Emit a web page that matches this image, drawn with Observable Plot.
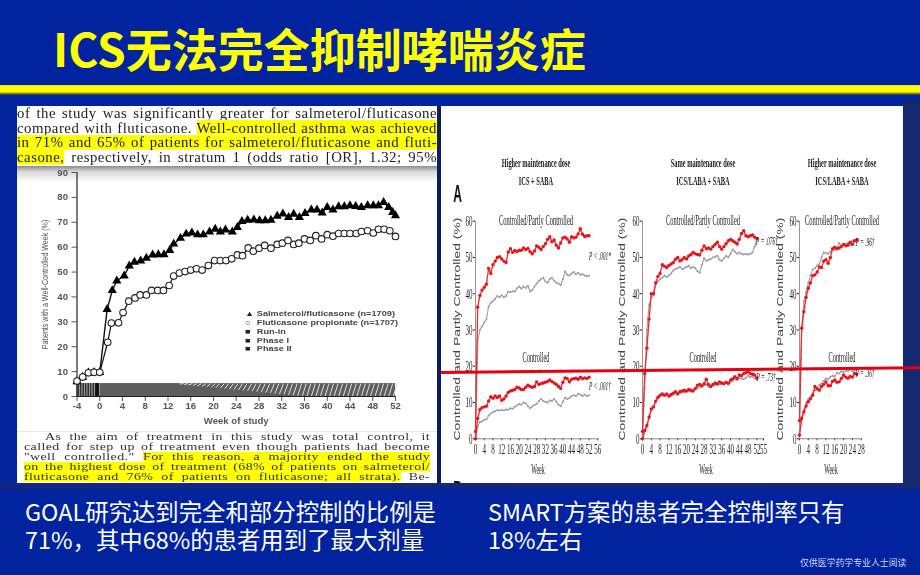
<!DOCTYPE html>
<html lang="zh">
<head>
<meta charset="utf-8">
<script src="https://cdn.jsdelivr.net/npm/d3@7"></script>
<script src="https://cdn.jsdelivr.net/npm/@observablehq/plot@0.6"></script>
<style>
html,body{margin:0;padding:0;background:#0123a0;}
#root{position:relative;width:920px;height:575px;overflow:hidden;background:#0123a0;font-family:"Noto Sans CJK SC","Noto Sans",sans-serif;}
.abs{position:absolute;}
.layer{position:absolute;left:0;top:0;width:920px;height:575px;}
.soft{filter:blur(.45px);}
#title{left:53px;top:14px;font-size:46px;line-height:66px;font-weight:700;color:#ffff00;white-space:nowrap;}
#rule{left:0;top:85px;width:920px;height:10px;background:linear-gradient(#e0e000 0,#ffff00 18%,#ffff00 66%,#77771c 88%,#1b2a70 100%);}
.panel{background:#fff;position:absolute;}
.cap{position:absolute;color:#fff;font-size:23.4px;line-height:28px;white-space:nowrap;font-weight:400;}
#foot{left:800px;top:556px;font-size:8.9px;line-height:14px;color:#ccd3ee;white-space:nowrap;}
.tx{position:absolute;font-family:"Liberation Serif",serif;color:#222;text-align:justify;text-align-last:justify;white-space:normal;}
.up .hl{background:linear-gradient(#ffff00,#ffff00) no-repeat center/100% 14.6px;}
.lo .hl{background:linear-gradient(#ffff00,#ffff00) no-repeat center/100% 13.7px;}
.lg{position:absolute;left:245px;font-family:"Liberation Sans",sans-serif;font-size:8.6px;line-height:9px;font-weight:700;color:#444;white-space:nowrap;transform:scale(1.07,.87);transform-origin:0 50%;}
.lg i{display:inline-block;width:11px;font-style:normal;font-size:8.6px;color:#222;}
.nar{position:absolute;font-family:"Liberation Serif",serif;color:#1a1a1a;white-space:nowrap;transform:translate(-50%,-50%) scaleX(var(--sx,.45));}
.rot{position:absolute;font-family:"Liberation Sans",sans-serif;font-size:8.6px;color:#444;white-space:nowrap;transform:translate(-50%,-50%) rotate(-90deg) scaleX(1.62);}
#redline{left:441px;top:370.5px;width:480px;height:3.4px;background:#e6000f;transform-origin:0 50%;transform:rotate(-.56deg);}
</style>
</head>
<body>
<div id="root"></div>
<script>
// ---- Left chart: week of study and percent well-controlled ----
const salWeeks=[-4,-3,-2,-1,0,1.3,2.2,3,4.3,5.2,6.1,7.2,8.2,9.3,10.3,11.3,12.3,13,14.2,15.2,16.2,17.2,18.2,19.3,20.3,21.2,22.1,23.3,24.2,25,26,27.1,28.1,29.1,30.1,31.2,32.2,33.2,34.1,35.1,36.1,37.2,38.2,39.1,40,41,42,43,44,45,46,47.1,48.1,49,49.9,50.8,51.5,52];
const salValues=[6,7.8,9.5,9.7,9.7,35,42.6,46.5,48.5,52.5,54,54.5,55.6,56.9,57,57,58.7,61.3,63.6,65.3,65.8,65,65,66.2,67.3,66.2,67,66.2,68,70.4,70.9,71,70.7,70.7,70.9,72.5,73.4,72,73.3,72,73.6,75,75,73.8,76,75,76.3,76.3,76.7,76.4,76,76.7,76.7,76.7,78,76,74,72.7];
const fluWeeks=[-4,-3,-2,-1,0,1.4,2.05,3.3,4.1,5.1,6.2,7.1,8.2,9.1,10.2,11.2,12.2,13,14,15,16,17,18,19.1,20.2,21.2,22.2,23.2,24.2,25.1,26.1,27,28,29,30.1,31.2,32.1,33.1,34.1,35,36,37,38,39,40,41,42,43,44,45.1,46,47.1,48.1,49,50,51,52];
const fluValues=[6.2,7.8,9.5,9.7,9.7,21.8,29.5,29.6,33.7,38.3,39.6,40.8,40.8,42.6,42.6,42.6,44.6,48.4,49.6,50.2,50.8,51.3,50.8,52.6,54.6,54.6,54.6,55.3,56.9,56.6,59.7,58.4,59.6,60.7,59.6,61.1,61.6,62.7,61.1,61.6,63.3,62.7,64.6,63.3,65,64.4,65.5,65.5,65.5,65.5,66.3,66.6,65.7,67.2,67.2,66.6,64.3];
const leftYTicks=[0,10,20,30,40,50,60,70,80,90];
const leftXTicks=[-4,0,4,8,12,16,20,24,28,32,36,40,44,48,52];
const legendLabels=["Salmeterol/fluticasone (n=1709)","Fluticasone propionate (n=1707)","Run-in","Phase I","Phase II"];
const legendGlyphs=["▲","○","■","■","■"];

// ---- Right charts ----
const wk52=[0,1,2,3,4,5,6,7,8,9,10,11,12,13,14,15,16,17,18,19,20,21,22,23,24,25,26,27,28,29,30,31,32,33,34,35,36,37,38,39,40,41,42,43,44,45,46,47,48,49,50,51,52];
const wk26=[0,1,2,3,4,5,6,7,8,9,10,11,12,13,14,15,16,17,18,19,20,21,22,23,24,25,26];
const a1Red=[2,36.3,39.5,41,41.8,42.6,47,45.6,48,49,50,50.2,49.6,49,48.6,51.5,52.4,51.4,51.9,51.6,52,52,52.6,52.2,52.5,51.6,51,51.8,53.2,52.8,52.2,53,53.8,55,55.7,54.3,54.8,53.4,52.6,54,55.4,55.6,55.1,54.2,55.7,55.4,55.6,56.5,57.9,56.4,55.8,56,56];
const a1Gray=[2,27,30,31,32,33,36.5,37.5,38,38.6,39.4,39,39.6,39,39.4,40.6,40.4,40.7,40.6,41.5,42,41.4,42,41.6,42.2,40.6,41,42,42.8,43.5,44,44.4,43.4,43,44,44.4,43.6,43,42.8,42.4,44,46.2,45.2,45,45.6,46,45.4,45.8,45.2,45.4,45,44.8,45];
const b1Red=[0,5.6,8,8.6,8.8,9,10.4,11.6,11.2,11.8,11.4,11.8,10.6,11,11.8,12.8,13.2,13.4,13.6,14.2,14,13.6,13.6,14.2,14.8,14.4,14.2,14.4,15.7,15,15.2,15.4,15.6,15.8,16.2,15.8,15.4,15,14.4,13.9,15.6,16.8,16.6,15.7,16.4,16.6,16.7,16.4,17,16.6,16.8,16.6,17];
const b1Gray=[0,3.4,4.6,4.8,5.2,5.4,6.4,7,7.4,7.6,7.9,7.8,8,7.8,8.1,8,8.4,8.3,8.8,9.2,9.6,9.4,10,9.8,9,8.4,8.9,9.3,9.6,10.4,11,10.4,10.2,10,10.6,10.4,11,10.2,9.4,9,10.2,11.4,11,11.2,11.8,12,11.8,12.4,12.2,11.8,12.2,11.8,12];
const a2Red=[2,18,25,33,40,40,43,44.8,45.6,48,47.6,47.2,47.8,48.2,48.6,49.5,50,49,49.4,50,49.6,50.4,50.8,51.4,51,50.8,50.7,52,53.2,52.4,52.6,52.3,53,53.6,54.2,53,52.3,53,53.8,54.6,55,54.6,54.2,53.7,55,56.6,57.4,56,55.7,56,56.2,55.6,55.2];
const a2Gray=[1,14,30,37,39,39.6,42.6,43.4,44,44.4,45,44.6,45,45.6,46.4,46.8,47,47.4,46.8,47,47.4,47.7,47,47.4,47,46.2,45.8,48,49.8,49,49.4,49.6,50,50.2,50.5,49.4,49,49.8,50.4,50,51,52.2,51.6,51,51.4,51,50.8,51,50.8,51,51.4,53,55];
const b2Red=[0,2.3,3.7,6,8.2,8.8,10.4,11.4,12,12.4,12,12.4,11.8,12.2,12.6,13,12.4,13,13.2,13.4,13.2,13.6,13.4,13.2,13.9,14.8,15,14.6,15.2,16.4,15,14.4,15,15.4,15.2,15.7,15.4,15.2,15.6,15.3,16.2,16.6,17.1,16.6,17.6,17.4,18,18.2,18.5,18,17.8,17.6,16.8];
const b2Gray=[0,2,3.4,5.6,8,8.6,10.2,11.2,11.8,12,11.8,12,11.6,11.8,12.2,12.6,12.2,12.6,13,12.8,13,13.2,13,13.4,13.6,14,14.2,14.4,14.8,15,14.4,14.2,14.6,15,14.8,15,15.2,15,15.4,15,15.6,16,16.4,16.2,16.8,16.6,16.4,16.8,17.4,17,17.2,16.6,16.4];
const a3Red=[5,30.5,35,39,41.5,43,45,45.2,46,47.4,47.2,49,49.4,48.4,50,52.4,52.8,52.4,52.6,53,53.6,53.2,53.4,54.2,53.6,54.6,54.8];
const a3Gray=[5,31,38,40.5,43,45,46.6,47,47.8,48.2,50,51.4,51.2,51,51.6,52.4,52,52.6,54,53.2,53.6,53.8,54,53.6,54.6,54.4,55];
const b3Red=[1,5.6,7.4,9,10.2,11,12,14.4,13.8,13.4,14.4,15,15.7,14.6,14.6,15.8,16.2,15.6,15.7,16.6,17.6,17,16.7,17.2,17,18,17.8];
const b3Gray=[1,6,8,10,11,11.6,12.6,13.4,14,14.8,15.2,16,16.6,16.4,17,17.4,17.2,18.2,18,18.6,18.4,18.8,18.6,19,18.6,18.8,19];
const rightYTicks=[0,10,20,30,40,50,60];
const xTicks1=[0,4,8,12,16,20,24,28,32,36,40,44,48,52,56];
const xTicks2=[0,4,8,12,16,20,24,28,32,36,40,44,48,52,55];
const xTicks3=[0,4,8,12,16,20,24,28];

// ---- Text ----
const slideTitle="ICS无法完全抑制哮喘炎症";
const capLeft=["GOAL研究达到完全和部分控制的比例是","71%，其中68%的患者用到了最大剂量"];
const capRight=["SMART方案的患者完全控制率只有","18%左右"];
const footer="仅供医学药学专业人士阅读";
const topLines=['of the study was significantly greater for salmeterol/fluticasone','compared with fluticasone. <span class="hl">Well-controlled asthma was achieved</span>','<span class="hl">in 71% and 65% of patients for salmeterol/fluticasone and fluti-</span>','<span class="hl">casone,</span> respectively, in stratum 1 (odds ratio [OR], 1.32; 95%'];
const lowLines=['As the aim of treatment in this study was total control, it','called for step up of treatment even though patients had become','"well controlled." <span class="hl">For this reason, a majority ended the study</span>','<span class="hl">on the highest dose of treatment (68% of patients on salmeterol/</span>','<span class="hl">fluticasone and 76% of patients on fluticasone; all strata).</span> Be-'];
const colHeads=[["Higher maintenance dose","ICS + SABA"],["Same maintenance dose","ICS/LABA + SABA"],["Higher maintenance dose","ICS/LABA + SABA"]];
const panelTopLabel="Controlled/Partly Controlled";
const panelLowLabel="Controlled";
const pTop=["P < .001*","P = .076†","P = .96†"];
const pLow=["P < .001†","P = .73†","P = .36†"];

const root=document.getElementById("root");
function el(cls,css,html,parent){const d=document.createElement("div");d.className=cls;if(css)d.style.cssText=css;if(html!=null)d.innerHTML=html;(parent||root).appendChild(d);return d;}

// Slide frame
el("abs","left:0;top:483px;width:920px;height:10px;background:linear-gradient(#172a72,#0123a0)");
el("abs","left:903px;top:100px;width:17px;height:388px;background:#14286e");
el("abs","left:437px;top:106px;width:4px;height:377px;background:#0c1d66");
const tt=el("abs","",slideTitle);tt.id="title";
el("abs","").id="rule";

// Panels
el("panel","left:17px;top:106px;width:420px;height:377px");
el("panel","left:441px;top:106px;width:462px;height:377px");
el("abs","left:17px;top:166px;width:420px;height:16px;background:linear-gradient(#8c8c8c,#d8d8d8 35%,#fff)");
el("abs","left:17px;top:431px;width:420px;height:1px;background:#e8e8e8");

const soft=el("layer soft","");

// Left paragraphs
const up=el("up","position:absolute;left:0;top:0",null,soft);
topLines.forEach((t,i)=>{el("tx","left:17px;width:420px;top:"+(105+i*14.6)+"px;height:16px;font-size:14.8px;line-height:16px;letter-spacing:.5px",t,up);});
const low=el("lo","position:absolute;left:0;top:0",null,soft);
lowLines.forEach((t,i)=>{
  const left=i===0?45:24, w=i===0?385:406;
  el("tx","left:"+left+"px;width:"+w+"px;top:"+(429.4+i*9.85)+"px;height:15px;font-size:14px;line-height:15px;letter-spacing:.36px;transform:scaleY(.72);transform-origin:50% 50%;color:#333",t,low);
});

const font="\"Liberation Sans\",sans-serif";
// Left chart
const leftPhases=[{a:-4,b:52}];
const hatch=d3.range(14,52,0.8);
const stripes=d3.range(-4,0,0.22);
const leftPlot=Plot.plot({
  width:420,height:265,marginLeft:59.5,marginRight:42,marginTop:6,marginBottom:35,
  style:{position:"absolute",left:"17px",top:"166px",background:"transparent",overflow:"visible",fontFamily:font,fontSize:"9.6px",fontWeight:"700",color:"#555"},
  x:{domain:[-4,52],ticks:leftXTicks,tickSize:5,tickPadding:1,tickFormat:d=>String(d),label:"Week of study",labelAnchor:"center",labelOffset:27,labelArrow:"none"},
  y:{domain:[0,90],ticks:leftYTicks,tickSize:5,label:"Patients with a Well-Controlled Week (%)",labelAnchor:"center",labelOffset:36,labelArrow:"none"},
  marks:[
    Plot.rectY(leftPhases,{x1:"a",x2:"b",y1:0,y2:5.2,fill:"#5e5e5e"}),
    Plot.link(hatch,{x1:d=>d,x2:d=>d+.7,y1:d=>Math.max(0,5-5*Math.max(0,(d-14)/22)),y2:5.2,stroke:"#e0e0e0",strokeWidth:1}),
    Plot.ruleX(stripes,{x:d=>d,y1:0,y2:5.2,stroke:(d,i)=>i%2?"#222":"#999",strokeWidth:1}),
    Plot.rectY([{a:-.7,b:-.1}],{x1:"a",x2:"b",y1:0,y2:5.2,fill:"#111"}),
    Plot.ruleX([-4],{y1:0,y2:90,stroke:"#222",strokeWidth:1.2}),
    Plot.ruleY([0],{stroke:"#222",strokeWidth:1.2}),
    Plot.lineY(salValues,{x:salWeeks,stroke:"#111",strokeWidth:1.4}),
    Plot.dot(salValues,{x:salWeeks,y:d=>d,symbol:"triangle",r:3.4,fill:"#000"}),
    Plot.lineY(fluValues,{x:fluWeeks,stroke:"#111",strokeWidth:1.2}),
    Plot.dot(fluValues,{x:fluWeeks,y:d=>d,r:3.3,fill:"#fff",stroke:"#222",strokeWidth:1.1})
  ]
});
leftPlot.querySelectorAll("text").forEach(t=>{
  if(t.textContent.startsWith("Patients")){
    t.setAttribute("transform",(t.getAttribute("transform")||"")+" scale(.74,1)");
    t.style.fontWeight="400";
  }
});
soft.appendChild(leftPlot);
legendLabels.forEach((t,i)=>{el("lg","top:"+(309+i*8.85)+"px","<i>"+legendGlyphs[i]+"</i>"+t,soft);});

// Right charts
function small(left,xMax,xTicks,rightEdge,a,aG,b,bG,wk){
  const w=rightEdge-left+23;
  const p=Plot.plot({
    width:w,height:250,marginLeft:15,marginRight:8,marginTop:10.7,marginBottom:21.7,
    style:{position:"absolute",left:left-15+"px",top:"210px",background:"transparent",overflow:"visible",fontFamily:"\"Liberation Serif\",serif",fontSize:"15px",color:"#222"},
    x:{domain:[0,xMax],ticks:xTicks,tickSize:2,tickPadding:3,label:null},
    y:{domain:[0,60],ticks:rightYTicks,tickSize:2,tickPadding:1,label:null},
    marks:[
      Plot.ruleX([0],{y1:0,y2:60,stroke:"#a98f8f",strokeWidth:1}),
      Plot.ruleY([0],{stroke:"#8a8a8a",strokeWidth:1}),
      Plot.lineY(aG,{x:wk,stroke:"#a4a4a8",strokeWidth:1.2}),
      Plot.dot(aG,{x:wk,y:d=>d,r:1,fill:"#9a9aa4"}),
      Plot.lineY(bG,{x:wk,stroke:"#a4a4a8",strokeWidth:1.2}),
      Plot.dot(bG,{x:wk,y:d=>d,r:1,fill:"#9a9aa4"}),
      Plot.lineY(a,{x:wk,stroke:"#ee2a2a",strokeWidth:1.3}),
      Plot.dot(a,{x:wk,y:d=>d,r:1.7,fill:"#e8141a"}),
      Plot.lineY(b,{x:wk,stroke:"#ee2a2a",strokeWidth:1.3}),
      Plot.dot(b,{x:wk,y:d=>d,r:1.7,fill:"#e8141a"})
    ]
  });
  p.querySelectorAll("text").forEach(t=>{
    t.setAttribute("transform",(t.getAttribute("transform")||"")+" scale(.47,1)");
  });
  soft.appendChild(p);
}
small(475,56,xTicks1,597.3,a1Red,a1Gray,b1Red,b1Gray,wk52);
small(642.3,55,xTicks2,763.3,a2Red,a2Gray,b2Red,b2Gray,wk52);
small(799.3,28,xTicks3,861,a3Red,a3Gray,b3Red,b3Gray,wk26);

const centers=[536,703,842];
colHeads.forEach((h,i)=>{
  el("nar","left:"+centers[i]+"px;top:163px;font-size:13.5px;font-weight:700;--sx:.47",h[0],soft);
  el("nar","left:"+centers[i]+"px;top:181px;font-size:13.5px;font-weight:700;--sx:.47",h[1],soft);
  el("nar","left:"+centers[i]+"px;top:220px;font-size:15px;--sx:.43",panelTopLabel,soft);
  el("nar","left:"+centers[i]+"px;top:357px;font-size:15px;--sx:.42",panelLowLabel,soft);
});
[538,706,831].forEach(x=>el("nar","left:"+x+"px;top:469px;font-size:15px;--sx:.4","Week",soft));
[[600,256],[767,240.5],[865,241.5]].forEach((p,i)=>el("nar","left:"+p[0]+"px;top:"+p[1]+"px;font-size:13px;font-style:italic;--sx:.42",pTop[i],soft));
[[600,386],[766,377],[865,372.7]].forEach((p,i)=>el("nar","left:"+p[0]+"px;top:"+p[1]+"px;font-size:13px;font-style:italic;--sx:.42",pLow[i],soft));
[457,622,780].forEach(x=>el("rot","left:"+x+"px;top:329px","Controlled and Partly Controlled (%)",soft));
el("abs","left:449px;top:181px;font:700 24px/26px 'Liberation Sans',sans-serif;color:#111;transform:scaleX(.5);transform-origin:50% 50%","A",soft);
el("abs","left:441px;top:476px;width:30px;height:7px;overflow:hidden",'<div style="position:absolute;left:8px;top:1px;font:700 24px/26px \'Liberation Sans\',sans-serif;color:#111;transform:scaleX(.5)">B</div>',soft);

// Red guide line over the right panel
el("abs","").id="redline";

// Captions
el("cap","left:25px;top:497px",capLeft.join("<br>"));
el("cap","left:488px;top:497px",capRight.join("<br>"));
el("abs","",footer).id="foot";
</script>
</body>
</html>
